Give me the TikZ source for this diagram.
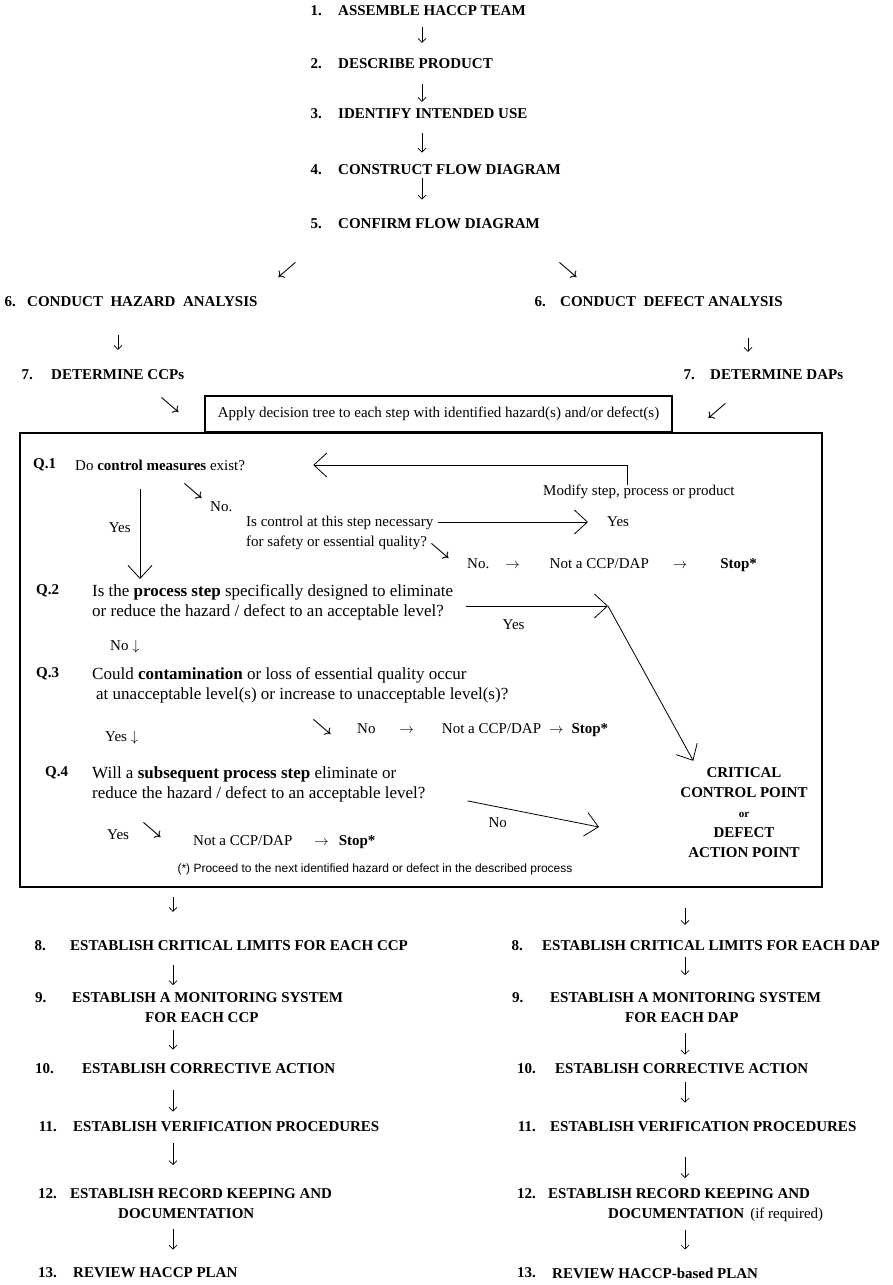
\documentclass[tikz,border=0pt]{standalone}
\usepackage{fontspec}
\setmainfont{Liberation Serif}
\setsansfont{Liberation Sans}
\usetikzlibrary{arrows.meta, positioning}
\tikzset{
  txt/.style={inner sep=0pt, anchor=west, align=left, font=\fontsize{15}{20}\selectfont},
  qtxt/.style={txt, anchor=north west, font=\fontsize{17}{20}\selectfont},
  lbl/.style={inner sep=0pt, font=\fontsize{15}{20}\selectfont},
  stepbox/.style={txt, font=\fontsize{15}{20}\selectfont\bfseries},
  numlbl/.style={stepbox},
  glyph/.style={inner sep=0pt, font=\fontsize{16}{16}\selectfont\boldmath},
  frame/.style={draw, line width=1.1pt, inner sep=0pt},
  note/.style={inner sep=0pt, font=\sffamily\fontsize{12}{14}\selectfont},
  flow/.style={-{Straight Barb[length=4pt,width=8pt]}, line width=0.7pt},
  bigarr/.style={-{Straight Barb[length=13pt,width=24pt]}, line width=0.8pt}
}

\begin{document}
\begin{tikzpicture}[x=1pt, y=-1pt]
  \useasboundingbox (0,0) rectangle (892,1285);

  % preliminary steps 1-5
  \node[stepbox] (s1) at (338,11) {ASSEMBLE HACCP TEAM};
  \node[numlbl, left=16pt of s1] (n1) {1.};
  \node[stepbox] (s2) at (338,64) {DESCRIBE PRODUCT};
  \node[numlbl, left=16pt of s2] (n2) {2.};
  \node[stepbox] (s3) at (338,114) {IDENTIFY INTENDED USE};
  \node[numlbl, left=16pt of s3] (n3) {3.};
  \node[stepbox] (s4) at (338,170) {CONSTRUCT FLOW DIAGRAM};
  \node[numlbl, left=16pt of s4] (n4) {4.};
  \node[stepbox] (s5) at (338,224) {CONFIRM FLOW DIAGRAM};
  \node[numlbl, left=16pt of s5] (n5) {5.};

  \coordinate (topcol) at (422,0);
  \draw[flow, shorten <=11pt, shorten >=16pt] (s1.south -| topcol) -- (s2.north -| topcol);
  \draw[flow, shorten <=15pt, shorten >=7pt] (s2.south -| topcol) -- (s3.north -| topcol);
  \draw[flow, shorten <=14pt, shorten >=12pt] (s3.south -| topcol) -- (s4.north -| topcol);
  \draw[flow, shorten <=3pt, shorten >=19pt] (s4.south -| topcol) -- (s5.north -| topcol);

  \node[glyph] (dl5) at (287,270) {$\swarrow$};
  \node[glyph] (dr5) at (568,270) {$\searrow$};

  % hazard / defect analysis
  \node[stepbox] (h6) at (27,302) {CONDUCT\ \ HAZARD\ \ ANALYSIS};
  \node[numlbl, left=11pt of h6] (n6h) {6.};
  \node[stepbox] (d6) at (560,302) {CONDUCT\ \ DEFECT ANALYSIS};
  \node[numlbl, left=14pt of d6] (n6d) {6.};
  \node[stepbox] (h7) at (51,375) {DETERMINE CCPs};
  \node[numlbl, left=18pt of h7] (n7h) {7.};
  \node[stepbox] (d7) at (710,375) {DETERMINE DAPs};
  \node[numlbl, left=15pt of d7] (n7d) {7.};

  \coordinate (hcol) at (118,0);
  \coordinate (dcol) at (748,0);
  \draw[flow, shorten <=28pt, shorten >=20pt] (h6.south -| hcol) -- (h7.north -| hcol);
  \draw[flow, shorten <=31pt, shorten >=18pt] (d6.south -| dcol) -- (d7.north -| dcol);

  \node[glyph] (dr7) at (170,405) {$\searrow$};
  \node[glyph] (dl7) at (717,411) {$\swarrow$};

  % decision tree
  \node[frame, minimum width=467pt, minimum height=36pt, font=\fontsize{15}{20}\selectfont] (apply) at (438.5,414)
    {Apply decision tree to each step with identified hazard(s) and/or defect(s)};
  \node[frame, minimum width=802pt, minimum height=454pt] (tree) at (421,660) {};

  \node[numlbl] (q1n) at (33,465) {Q.1};
  \node[txt] (q1t) at (75,465) {Do \textbf{control measures} exist?};
  \node[txt] (modify) at (543,492) {Modify step, process or product};
  \draw[bigarr, shorten >=68pt] ([xshift=84pt]modify.north west) |- (q1t.east);
  \node[glyph] (dq1) at (193,491) {$\searrow$};
  \node[txt] (no1) at (210,507) {No.};
  \node[txt, anchor=north west] (isc) at (246,516) {Is control at this step necessary\\for safety or essential quality?};
  \node[txt] (yes1) at (607,522) {Yes};
  \draw[bigarr, shorten <=5pt, shorten >=19pt] (yes1.west -| isc.east) -- (yes1.west);
  \node[glyph] (dq1b) at (440,551) {$\searrow$};
  \node[txt] (stop1) at (467,565) {No.\hspace{16pt}$\rightarrow$\hspace{30pt}Not a CCP/DAP\hspace{24pt}$\rightarrow$\hspace{33pt}\textbf{Stop*}};

  \node[stepbox, anchor=center, align=center] (ccp) at (744,813)
    {CRITICAL\\CONTROL POINT\\{\fontsize{11}{20}\selectfont or}\\DEFECT\\ACTION POINT};

  \coordinate (yescol) at (140,0);
  \node[numlbl] (q2n) at (36,591) {Q.2};
  \node[qtxt] (q2t) at (92,584) {Is the \textbf{process step} specifically designed to eliminate\\or reduce the hazard / defect to an acceptable level?};
  \draw[bigarr, shorten <=18pt, shorten >=5pt] (q1t.south -| yescol) -- (q2t.north -| yescol)
    node[lbl, midway, left=9pt] {Yes};
  \coordinate (q2y) at (608,606);
  \draw[bigarr, shorten <=13pt] (q2y -| q2t.east) -- (q2y) node[lbl, pos=0.39, below=13pt] {Yes};
  \draw[bigarr] (q2y) -- ([shift={(13pt,7pt)}]ccp.north west);

  \node[txt] (no3) at (110,647) {No $\downarrow$};
  \node[numlbl] (q3n) at (36,674) {Q.3};
  \node[qtxt] (q3t) at (92,667) {Could \textbf{contamination} or loss of essential quality occur\\\hspace*{4pt}at unacceptable level(s) or increase to unacceptable level(s)?};
  \node[txt] (yes3) at (105,738) {Yes $\downarrow$};
  \node[glyph] (dq3) at (322,727) {$\searrow$};
  \node[txt] (stop3) at (357,730) {No\hspace{24pt}$\rightarrow$\hspace{28pt}Not a CCP/DAP\hspace{8pt}$\rightarrow$\hspace{8pt}\textbf{Stop*}};

  \node[numlbl] (q4n) at (45,773) {Q.4};
  \node[qtxt] (q4t) at (92,766) {Will a \textbf{subsequent process step} eliminate or\\reduce the hazard / defect to an acceptable level?};
  \coordinate (q4no) at (599,827);
  \draw[bigarr] ([xshift=42pt,yshift=-17pt]q4t.east) -- (q4no) node[lbl, pos=0.23, below=10pt] {No};
  \node[txt] (yes4) at (107,835) {Yes};
  \node[glyph] (dq4) at (152,830) {$\searrow$};
  \node[txt] (stop4) at (193,842) {Not a CCP/DAP\hspace{22pt}$\rightarrow$\hspace{10pt}\textbf{Stop*}};
  \node[note] (fnote) at (375,869) {(*) Proceed to the next identified hazard or defect in the described process};

  % hazard (CCP) column
  \coordinate (lcol) at (173,0);
  \node[stepbox] (l8) at (70,946) {ESTABLISH CRITICAL LIMITS FOR EACH CCP};
  \node[numlbl, left=24pt of l8] (n8l) {8.};
  \node[stepbox, anchor=north west] (l9) at (72,992) {ESTABLISH A MONITORING SYSTEM\\\hspace*{73pt}FOR EACH CCP};
  \node[numlbl] (n9l) at (35,998) {9.};
  \node[stepbox] (l10) at (82,1069) {ESTABLISH CORRECTIVE ACTION};
  \node[numlbl, left=28pt of l10] (n10l) {10.};
  \node[stepbox] (l11) at (73,1127) {ESTABLISH VERIFICATION PROCEDURES};
  \node[numlbl, left=16pt of l11] (n11l) {11.};
  \node[stepbox, anchor=north west] (l12) at (70,1188) {ESTABLISH RECORD KEEPING AND\\\hspace*{48pt}DOCUMENTATION};
  \node[numlbl] (n12l) at (38,1194) {12.};
  \node[stepbox] (l13) at (73,1273) {REVIEW HACCP PLAN};
  \node[numlbl, left=16pt of l13] (n13l) {13.};

  \draw[flow, shorten <=9pt, shorten >=29pt] (tree.south -| lcol) -- (l8.north -| lcol);
  \draw[flow, shorten <=14pt, shorten >=7pt] (l8.south -| lcol) -- (l9.north -| lcol);
  \draw[flow, shorten <=8pt, shorten >=14pt] (l9.south -| lcol) -- (l10.north -| lcol);
  \draw[flow, shorten <=16pt, shorten >=10pt] (l10.south -| lcol) -- (l11.north -| lcol);
  \draw[flow, shorten <=11pt, shorten >=23pt] (l11.south -| lcol) -- (l12.north -| lcol);
  \draw[flow, shorten <=11pt, shorten >=18pt] (l12.south -| lcol) -- (l13.north -| lcol);

  % defect (DAP) column
  \coordinate (rcol) at (685,0);
  \node[stepbox] (r8) at (542,946) {ESTABLISH CRITICAL LIMITS FOR EACH DAP};
  \node[numlbl, left=19pt of r8] (n8r) {8.};
  \node[stepbox, anchor=north west] (r9) at (550,992) {ESTABLISH A MONITORING SYSTEM\\\hspace*{75pt}FOR EACH DAP};
  \node[numlbl] (n9r) at (512,998) {9.};
  \node[stepbox] (r10) at (555,1069) {ESTABLISH CORRECTIVE ACTION};
  \node[numlbl, left=19pt of r10] (n10r) {10.};
  \node[stepbox] (r11) at (550,1127) {ESTABLISH VERIFICATION PROCEDURES};
  \node[numlbl, left=14pt of r11] (n11r) {11.};
  \node[stepbox, anchor=north west] (r12) at (548,1188) {ESTABLISH RECORD KEEPING AND\\\hspace*{60pt}DOCUMENTATION\hspace{6pt}\mdseries(if required)};
  \node[numlbl] (n12r) at (517,1194) {12.};
  \node[stepbox] (r13) at (552,1273) {REVIEW HACCP-based PLAN};
  \node[numlbl, left=16pt of r13] (n13r) {13.};

  \draw[flow, shorten <=20pt, shorten >=16pt] (tree.south -| rcol) -- (r8.north -| rcol);
  \draw[flow, shorten <=6pt, shorten >=17pt] (r8.south -| rcol) -- (r9.north -| rcol);
  \draw[flow, shorten <=11pt, shorten >=9pt] (r9.south -| rcol) -- (r10.north -| rcol);
  \draw[flow, shorten <=8pt, shorten >=19pt] (r10.south -| rcol) -- (r11.north -| rcol);
  \draw[flow, shorten <=25pt, shorten >=10pt] (r11.south -| rcol) -- (r12.north -| rcol);
  \draw[flow, shorten <=8pt, shorten >=18pt] (r12.south -| rcol) -- (r13.north -| rcol);
\end{tikzpicture}
\end{document}
